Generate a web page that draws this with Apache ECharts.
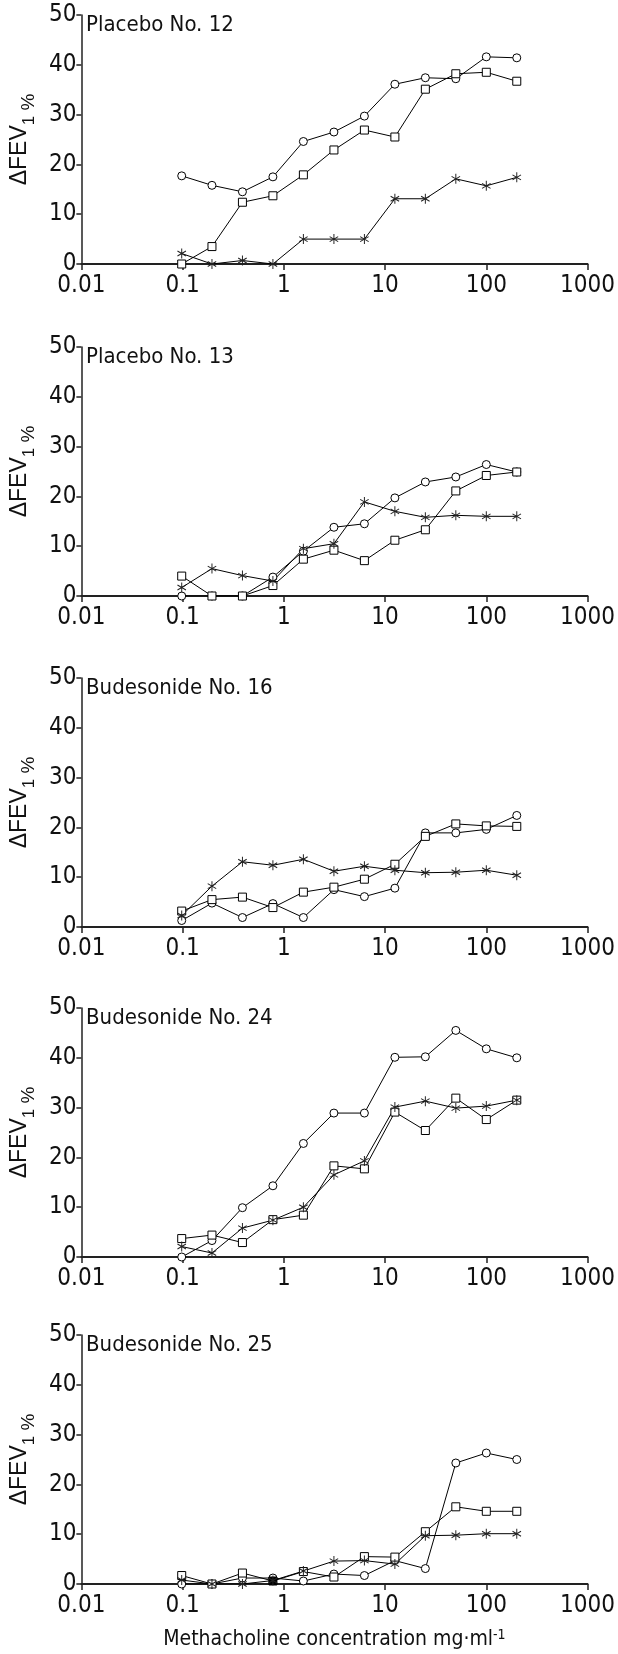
<!DOCTYPE html>
<html>
<head>
<meta charset="utf-8">
<title>Methacholine dose response</title>
<script src="https://cdn.jsdelivr.net/npm/echarts@6/dist/echarts.min.js"></script>
<style>
  html, body { margin: 0; padding: 0; background: #fff; }
  #chart { width: 618px; height: 1654px; }
</style>
</head>
<body>
<div id="chart"></div>
<script>
// methacholine doubling concentrations, mg/ml
var conc = [0.098, 0.195, 0.39, 0.78, 1.56, 3.125, 6.25, 12.5, 25, 50, 100, 200];
var yTicks = [0, 10, 20, 30, 40, 50];

var panelNames = ['Placebo No. 12', 'Placebo No. 13', 'Budesonide No. 16', 'Budesonide No. 24', 'Budesonide No. 25'];

// change in FEV1 %, one array per marker
var p12Circle = [17.7, 15.8, 14.5, 17.5, 24.6, 26.5, 29.7, 36.1, 37.4, 37.2, 41.6, 41.4];
var p12Square = [0, 3.5, 12.4, 13.7, 17.9, 22.9, 26.9, 25.5, 35.1, 38.2, 38.5, 36.7];
var p12Star   = [2.1, 0, 0.7, 0, 5.0, 5.0, 5.0, 13.1, 13.1, 17.1, 15.7, 17.4];

var p13Circle = [0, 0, 0, 3.8, 9.0, 13.8, 14.5, 19.7, 22.9, 23.9, 26.4, 24.9];
var p13Square = [4.0, 0, 0, 2.1, 7.4, 9.2, 7.1, 11.2, 13.3, 21.1, 24.2, 24.9];
var p13Star   = [1.7, 5.5, 4.1, 3.0, 9.5, 10.5, 18.9, 17.0, 15.8, 16.2, 16.0, 16.0];

var b16Circle = [1.3, 4.8, 1.9, 4.7, 1.9, 7.5, 6.1, 7.8, 18.9, 18.9, 19.6, 22.4];
var b16Square = [3.2, 5.5, 6.0, 3.9, 7.0, 8.0, 9.6, 12.6, 18.2, 20.7, 20.3, 20.2];
var b16Star   = [2.3, 8.2, 13.1, 12.4, 13.6, 11.2, 12.2, 11.4, 10.9, 11.0, 11.4, 10.4];

var b24Circle = [0, 3.3, 9.9, 14.3, 22.8, 28.9, 28.9, 40.1, 40.2, 45.5, 41.8, 40.0];
var b24Square = [3.7, 4.4, 2.9, 7.5, 8.4, 18.3, 17.7, 29.1, 25.4, 31.9, 27.6, 31.5];
var b24Star   = [2.1, 0.8, 5.8, 7.4, 10.0, 16.5, 19.3, 30.1, 31.3, 29.9, 30.3, 31.5];

var b25Circle = [0, 0, 1.2, 1.2, 0.6, 2.0, 1.7, 4.7, 3.1, 24.3, 26.3, 25.0];
var b25Square = [1.7, 0, 2.2, 0.6, 2.5, 1.4, 5.5, 5.4, 10.5, 15.5, 14.6, 14.6];
var b25Star   = [0.8, 0, 0, 0.7, 2.6, 4.6, 4.7, 4.0, 9.7, 9.8, 10.1, 10.1];

var circles = [p12Circle, p13Circle, b16Circle, b24Circle, b25Circle];
var squares = [p12Square, p13Square, b16Square, b24Square, b25Square];
var stars   = [p12Star, p13Star, b16Star, b24Star, b25Star];

// points drawn solid in the last panel (overlapping markers)
var b25FilledCircle = [1];
var b25FilledSquare = [3];

var narrow = '"DejaVu Sans Condensed", "Liberation Sans", sans-serif';
var plain = '"Liberation Sans", sans-serif';
var gridTops = [15, 347, 678, 1008, 1335];
var gridH = 249;

// 6-arm asterisk as a path
function asteriskPath() {
    var r = 50, h = 5, s = '';
    [90, 30, 150].forEach(function (deg) {
        var t = deg * Math.PI / 180;
        var dx = Math.cos(t), dy = Math.sin(t), nx = -dy, ny = dx;
        var pts = [
            [r * dx + h * nx, r * dy + h * ny],
            [-r * dx + h * nx, -r * dy + h * ny],
            [-r * dx - h * nx, -r * dy - h * ny],
            [r * dx - h * nx, r * dy - h * ny]
        ];
        s += 'M' + pts.map(function (p) { return (p[0] + 50).toFixed(2) + ' ' + (p[1] + 50).toFixed(2); }).join(' L') + ' Z ';
    });
    return 'path://' + s;
}
var starSymbol = asteriskPath();

function pairs(vals, filled) {
    return vals.map(function (v, k) {
        var item = { value: [conc[k], v] };
        if (filled && filled.indexOf(k) >= 0) {
            item.itemStyle = { color: '#000' };
        }
        return item;
    });
}

var grids = [], xAxes = [], yAxes = [], titles = [], series = [];

for (var i = 0; i < 5; i++) {
    grids.push({ left: 73, right: 25, top: gridTops[i], height: gridH });

    titles.push({
        text: panelNames[i],
        left: 81,
        top: gridTops[i] - 6,
        textStyle: { fontSize: 22, fontWeight: 'normal', color: '#111', fontFamily: narrow }
    });

    xAxes.push({
        type: 'log',
        logBase: 10,
        gridIndex: i,
        min: 0.01,
        max: 1000,
        splitNumber: 5,
        axisLine: { onZero: false, lineStyle: { color: '#222', width: 2 } },
        axisTick: { show: true, length: 6, lineStyle: { color: '#222', width: 1.5 } },
        axisLabel: {
            fontSize: 24, color: '#111', fontFamily: narrow, margin: 10,
            showMinLabel: true, showMaxLabel: true,
            formatter: function (v) { return String(+(+v).toPrecision(3)); }
        },
        splitLine: { show: false },
        name: i === 4 ? 'Methacholine concentration mg·ml{sup|-1}' : '',
        nameLocation: 'middle',
        nameGap: 44,
        nameTextStyle: {
            fontSize: 21, color: '#111', fontFamily: narrow,
            rich: { sup: { fontSize: 14, color: '#111', fontFamily: narrow, lineHeight: 24, verticalAlign: 'top' } }
        }
    });

    yAxes.push({
        type: 'value',
        gridIndex: i,
        min: yTicks[0],
        max: yTicks[yTicks.length - 1],
        interval: yTicks[1] - yTicks[0],
        axisLine: { show: true, onZero: false, lineStyle: { color: '#222', width: 1.5 } },
        axisTick: { show: true, length: 5, lineStyle: { color: '#222', width: 1.5 } },
        axisLabel: { fontSize: 24, color: '#111', fontFamily: narrow, margin: 5 },
        splitLine: { show: false },
        name: '{a|ΔFEV}{b|1}{c| %}',
        nameLocation: 'middle',
        nameRotate: 90,
        nameGap: 30,
        nameTextStyle: {
            rich: {
                a: { fontSize: 23, color: '#111', fontFamily: plain, lineHeight: 30, verticalAlign: 'top' },
                b: { fontSize: 17, color: '#111', fontFamily: plain, lineHeight: 14, verticalAlign: 'bottom' },
                c: { fontSize: 19, color: '#111', fontFamily: plain, lineHeight: 16, verticalAlign: 'bottom' }
            }
        }
    });

    var common = {
        type: 'line',
        xAxisIndex: i,
        yAxisIndex: i,
        lineStyle: { color: '#000', width: 1 },
        itemStyle: { color: '#fff', borderColor: '#000', borderWidth: 1 },
        emphasis: { disabled: true },
        z: 2
    };
    series.push(Object.assign({}, common, {
        name: 'circle',
        symbol: 'circle',
        symbolSize: 8,
        data: pairs(circles[i], i === 4 ? b25FilledCircle : null)
    }));
    series.push(Object.assign({}, common, {
        name: 'square',
        symbol: 'rect',
        symbolSize: 8,
        data: pairs(squares[i], i === 4 ? b25FilledSquare : null)
    }));
    series.push(Object.assign({}, common, {
        name: 'star',
        symbol: starSymbol,
        symbolSize: [9, 10],
        itemStyle: { color: '#222', borderWidth: 0 },
        data: pairs(stars[i], null)
    }));
}

var option = {
    backgroundColor: '#fff',
    animation: false,
    title: titles,
    grid: grids,
    xAxis: xAxes,
    yAxis: yAxes,
    series: series
};

var myChart = echarts.init(document.getElementById('chart'));
myChart.setOption(option);
</script>
</body>
</html>
